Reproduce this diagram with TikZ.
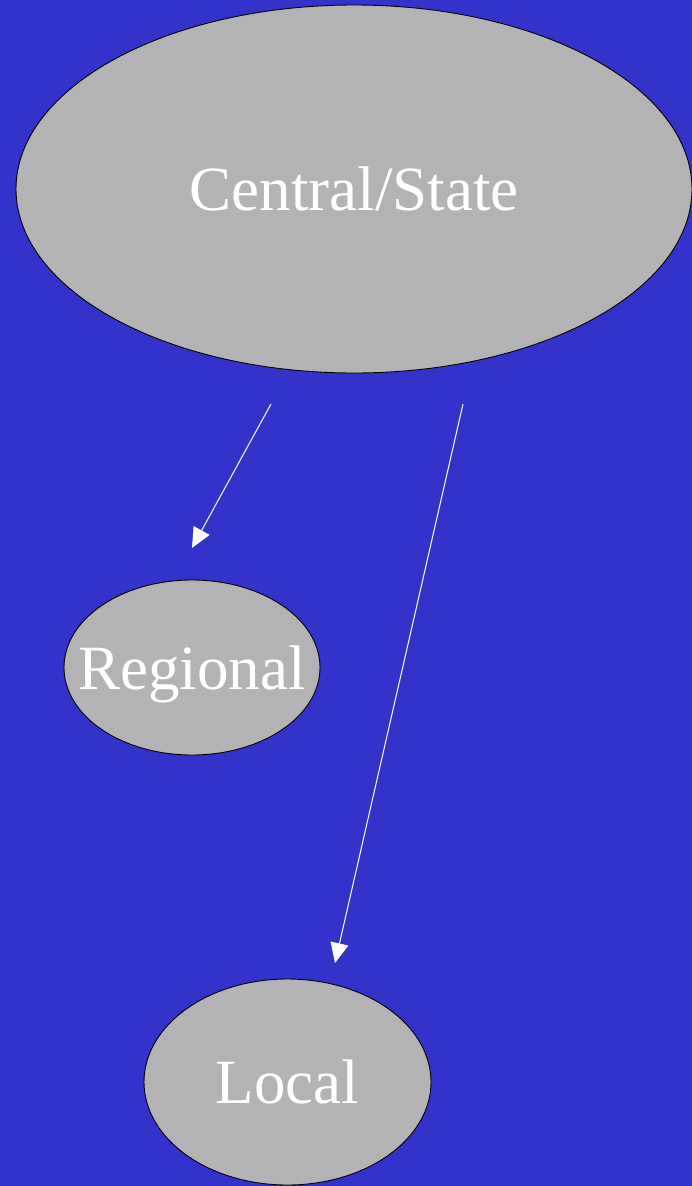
\documentclass[tikz,border=0pt]{standalone}
\usepackage{fontspec}
\setmainfont{Liberation Serif}
\usepackage{xcolor}
\usetikzlibrary{shapes.geometric,arrows.meta}
\definecolor{govblue}{RGB}{51,51,204}
\definecolor{govgray}{RGB}{179,179,179}
\tikzset{>={Triangle[length=20pt,width=18pt]}}
\tikzset{level/.style={ellipse, draw=black, line width=0.9pt, fill=govgray, inner sep=-30pt,
    text depth=0pt, text=white, font=\fontsize{63}{70}\selectfont}}
\tikzset{link/.style={->, white, line width=1pt}}

\begin{document}
\begin{tikzpicture}[x=1pt, y=-1pt]
  \fill[govblue] (0,0) rectangle (692,1186);
  \useasboundingbox (0,0) rectangle (692,1186);
  \clip (0,0) rectangle (692,1186);
  % the three levels
  \node[level, minimum width=676pt, minimum height=368pt] (central) at (354,189) {Central/State};
  \node[level, minimum width=256pt, minimum height=175pt] (regional) at (192,667.5) {Regional};
  \node[level, minimum width=287pt, minimum height=206pt] (local) at (287.5,1082) {Local};
  % ends of the links
  \coordinate (c1) at (271,404);
  \coordinate (r1) at (192,548);
  \coordinate (c2) at (463,404);
  \coordinate (l1) at (335,963);
  \draw[link] (c1) -- (r1);
  \draw[link] (c2) -- (l1);
\end{tikzpicture}
\end{document}
